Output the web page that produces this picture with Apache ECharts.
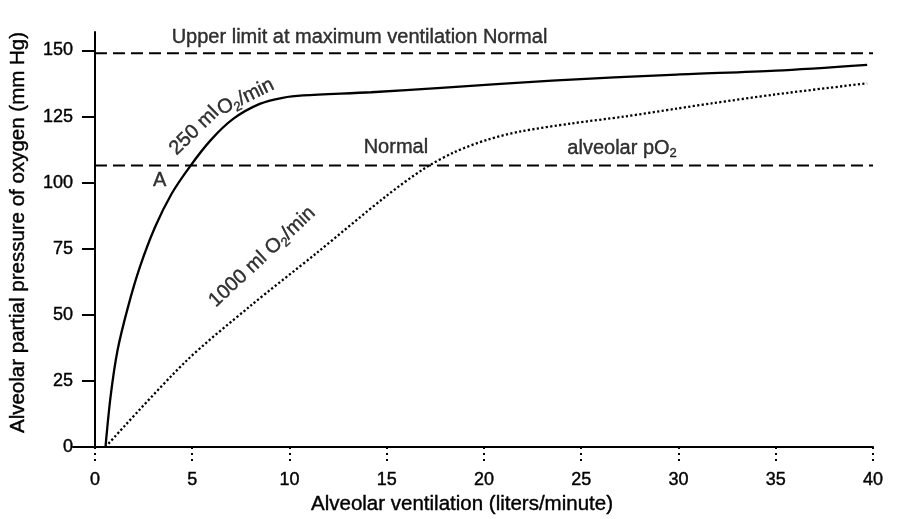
<!DOCTYPE html>
<html>
<head>
<meta charset="utf-8">
<script src="https://cdn.jsdelivr.net/npm/echarts@6/dist/echarts.min.js"></script>
<style>
  html, body { margin: 0; padding: 0; background: #fff; }
  #main { width: 918px; height: 519px; }
</style>
</head>
<body>
<div id="main"></div>
<script>
// tick values
var xTicks = [0, 5, 10, 15, 20, 25, 30, 35, 40];
var yTicks = [0, 25, 50, 75, 100, 125, 150];

// 250 ml O2/min curve (solid)
var curve250 = [
  [0.54, 0], [0.8, 19], [1.16, 36.6], [1.7, 53], [2.31, 68.1], [3.09, 83.2],
  [3.94, 95.8], [4.86, 105.9], [5.94, 116], [7.12, 124.2], [8.47, 129.8],
  [9.65, 132.1], [10.7, 133], [14.2, 134.2], [17.8, 135.9], [23.5, 138.6],
  [29.9, 140.9], [35, 142.4], [39.7, 144.6]
];
// 1000 ml O2/min curve (dotted)
var curve1000 = [
  [0.54, 0], [4.63, 32.1], [7.98, 53.3], [11.38, 73.3], [14.95, 94.8],
  [16.9, 105.2], [18.5, 111.6], [20.2, 116.3], [21.9, 119.4], [24.5, 122.4],
  [27.2, 125], [29.9, 128], [31.7, 130], [35, 133.4], [39.7, 137.6]
];
// dashed reference levels
var upperLimit = [[0, 149], [40, 149]];
var normalAlveolar = [[0, 106.5], [40, 106.5]];

// text notes
var notes = [
  { text: '{n|Upper limit at maximum ventilation Normal}', at: [13.6, 154.9], rotate: 0 },
  { text: '{n|250 ml}', at: [5.1, 119.6], rotate: 44 },
  { text: '{n|O}{s|2}{n|/min}', at: [7.75, 132.4], rotate: 26 },
  { text: '{n|1000 ml O}{s|2}{n|/min}', at: [8.6, 71.9], rotate: 43 },
  { text: '{n|A}', at: [3.32, 100.9], rotate: 0 },
  { text: '{n|Normal}', at: [15.47, 113.3], rotate: 0 },
  { text: '{n|alveolar pO}{s|2}', at: [27.1, 113], rotate: 0 }
];

var chart = echarts.init(document.getElementById('main'));
var ink = '#000';
var font = 'Liberation Sans, Arial, sans-serif';
var bold = { textBorderColor: ink, textBorderWidth: 0.4 };

var option = {
  backgroundColor: '#fff',
  animation: false,
  grid: { left: 73, right: 45, top: 32, bottom: 72, outerBoundsMode: 'none' },
  xAxis: {
    type: 'value',
    min: -1.13,
    max: 40,
    name: 'Alveolar ventilation (liters/minute)',
    nameLocation: 'middle',
    nameGap: 46,
    nameTextStyle: Object.assign({ color: ink, fontSize: 20.5, fontFamily: font, padding: [0, 22, 0, 0] }, bold),
    axisLine: { lineStyle: { color: ink, width: 2 } },
    axisTick: { customValues: xTicks, length: 15, lineStyle: { color: ink, width: 2, type: [2, 4] } },
    axisLabel: Object.assign({ customValues: xTicks, color: ink, fontSize: 18, fontFamily: font, margin: 24 }, bold),
    splitLine: { show: false }
  },
  yAxis: {
    type: 'value',
    min: 0,
    max: 157,
    name: 'Alveolar partial pressure of oxygen (mm Hg)',
    nameLocation: 'middle',
    nameGap: 44,
    nameTextStyle: Object.assign({ color: ink, fontSize: 20.5, fontFamily: font, padding: [0, 0, 0, 14] }, bold),
    axisLine: { onZero: true, lineStyle: { color: ink, width: 2 } },
    axisTick: { customValues: yTicks, length: 13, lineStyle: { color: ink, width: 2 } },
    axisLabel: Object.assign({ customValues: yTicks, color: ink, fontSize: 18, fontFamily: font, margin: 0 }, bold),
    splitLine: { show: false }
  },
  series: [
    {
      name: 'upper', type: 'line', data: upperLimit, symbol: 'none', silent: true,
      lineStyle: { color: ink, width: 2, type: [12, 6] }
    },
    {
      name: 'normal', type: 'line', data: normalAlveolar, symbol: 'none', silent: true,
      lineStyle: { color: ink, width: 2, type: [12, 6] }
    },
    {
      name: '250 ml O2/min', type: 'line', data: curve250, symbol: 'none', smooth: 0.3,
      lineStyle: { color: ink, width: 2.3 }
    },
    {
      name: '1000 ml O2/min', type: 'line', data: curve1000, symbol: 'none', smooth: 0.3,
      lineStyle: { color: ink, width: 2.3, type: [2.2, 2.3] }
    },
    {
      name: 'notes', type: 'scatter', symbolSize: 0, silent: true,
      data: notes.map(function (d) {
        return {
          value: d.at,
          label: {
            show: true, position: 'inside', rotate: d.rotate,
            formatter: d.text,
            rich: {
              n: Object.assign({ fontSize: 20, lineHeight: 24, color: ink, fontFamily: font }, bold),
              s: Object.assign({ fontSize: 13, lineHeight: 14, verticalAlign: 'bottom', color: ink, fontFamily: font }, bold)
            }
          }
        };
      })
    }
  ]
};

chart.setOption(option);
</script>
</body>
</html>
